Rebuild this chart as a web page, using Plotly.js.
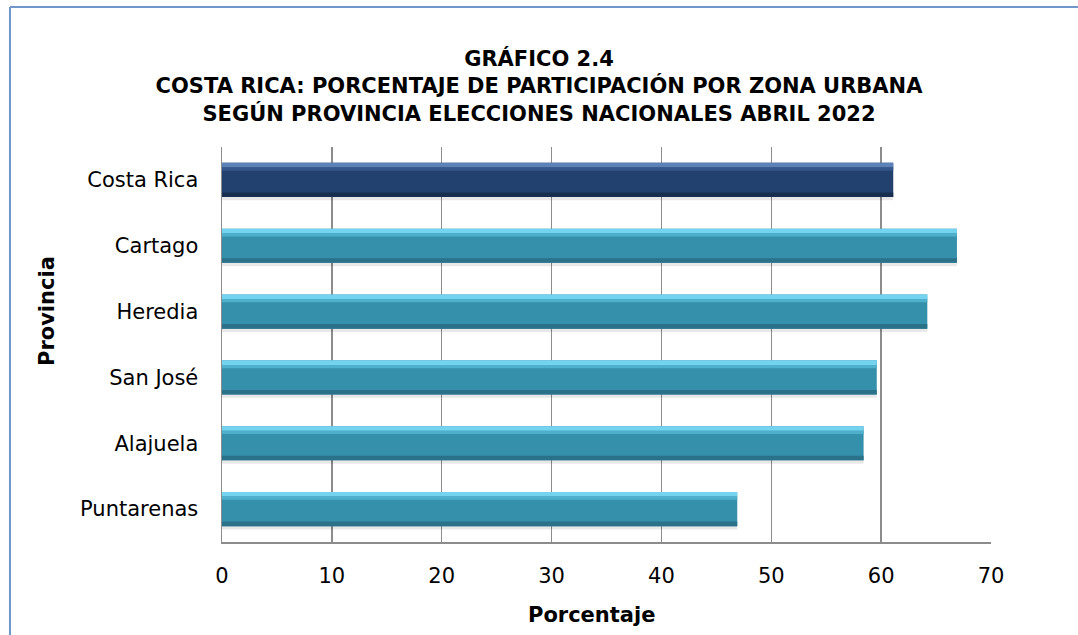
<!DOCTYPE html>
<html>
<head>
<meta charset="utf-8">
<script src="https://cdn.plot.ly/plotly-3.0.1.min.js"></script>
<style>
  html, body { margin: 0; padding: 0; background: #ffffff; }
  #chart { width: 1078px; height: 635px; }
</style>
</head>
<body>
<div id="chart"></div>
<script>
// ---- data ----
const categories = ['Costa Rica', 'Cartago', 'Heredia', 'San José', 'Alajuela', 'Puntarenas'];
const values = [61.1, 66.9, 64.2, 59.6, 58.4, 46.9];
const xTicks = [0, 10, 20, 30, 40, 50, 60, 70];

const titleLines = [
  'GRÁFICO 2.4',
  'COSTA RICA: PORCENTAJE DE PARTICIPACIÓN POR ZONA URBANA',
  'SEGÚN PROVINCIA ELECCIONES NACIONALES ABRIL 2022'
];
const xTitle = 'Porcentaje';
const yTitle = 'Provincia';

// ---- styles ----
const isTotal = categories.map((c, i) => i === 0);
const mainCol = isTotal.map(t => t ? '#22416f' : '#3591ab');
const lightCol = isTotal.map(t => t ? '#5a82b8' : '#74d3ef');
const midCol = isTotal.map(t => t ? '#34568a' : '#4fb0cc');
const darkCol = isTotal.map(t => t ? '#182f52' : '#2a7189');

function layer(offset, width, colors) {
  return {
    type: 'bar', orientation: 'h',
    y: categories, x: values,
    offset: offset, width: width,
    marker: { color: colors, line: { width: 0 } },
    hoverinfo: 'skip', showlegend: false
  };
}

const traces = [
  layer(-0.23, 0.54, 'rgba(0,0,0,0.09)'),
  layer(-0.26, 0.52, mainCol),
  layer(-0.26, 0.07, lightCol),
  layer(-0.19, 0.05, midCol),
  layer(0.19, 0.07, darkCol)
];

const L = 222, R = 1078 - 991, T = 147, B = 635 - 542;
const plotW = 1078 - L - R, plotH = 635 - T - B;
const px = v => (v - L) / plotW;
const py = v => (635 - B - v) / plotH;

const gridCol = '#8c8c8c';
const FONT = 'DejaVu Sans, sans-serif';

const layout = {
  width: 1078, height: 635,
  paper_bgcolor: '#ffffff', plot_bgcolor: '#ffffff',
  margin: { l: L, r: R, t: T, b: B, pad: 0 },
  barmode: 'overlay',
  font: { family: FONT, color: '#000000' },
  title: {
    text: titleLines.join('<br>'),
    font: { family: FONT, size: 21, weight: 'bold', color: '#000000' },
    x: 0.5, xref: 'container', xanchor: 'center',
    y: 1 - 66 / 635, yref: 'container', yanchor: 'top'
  },
  xaxis: {
    range: [0, 70], tickvals: xTicks, ticktext: xTicks.map(String),
    showgrid: true, gridcolor: gridCol, gridwidth: 1.5,
    zeroline: false, showline: true, linecolor: gridCol, linewidth: 1.5,
    ticks: '', ticklabelstandoff: 14,
    tickfont: { family: FONT, size: 21, color: '#000000' },
    fixedrange: true
  },
  yaxis: {
    type: 'category', categoryorder: 'array', categoryarray: categories,
    autorange: 'reversed',
    showgrid: false, zeroline: false, showline: true, linecolor: gridCol, linewidth: 1.5,
    ticks: '', ticklabelstandoff: 18,
    tickfont: { family: FONT, size: 21, color: '#000000' },
    fixedrange: true
  },
  annotations: [
    {
      text: '<b>' + xTitle + '</b>', xref: 'paper', yref: 'paper',
      x: px(591), y: py(615), xanchor: 'center', yanchor: 'middle', showarrow: false,
      font: { family: FONT, size: 21, color: '#000000' }
    },
    {
      text: '<b>' + yTitle + '</b>', xref: 'paper', yref: 'paper',
      x: px(47), y: py(311), xanchor: 'center', yanchor: 'middle', showarrow: false,
      textangle: -90,
      font: { family: FONT, size: 21, color: '#000000' }
    }
  ],
  shapes: [
    { type: 'line', xref: 'paper', yref: 'paper', x0: px(10), x1: px(10), y0: py(7), y1: py(640),
      line: { color: '#7096cc', width: 2 } },
    { type: 'line', xref: 'paper', yref: 'paper', x0: px(10), x1: px(1080), y0: py(7), y1: py(7),
      line: { color: '#7096cc', width: 2 } }
  ]
};

Plotly.newPlot('chart', traces, layout, { displayModeBar: false, staticPlot: true });
</script>
</body>
</html>
